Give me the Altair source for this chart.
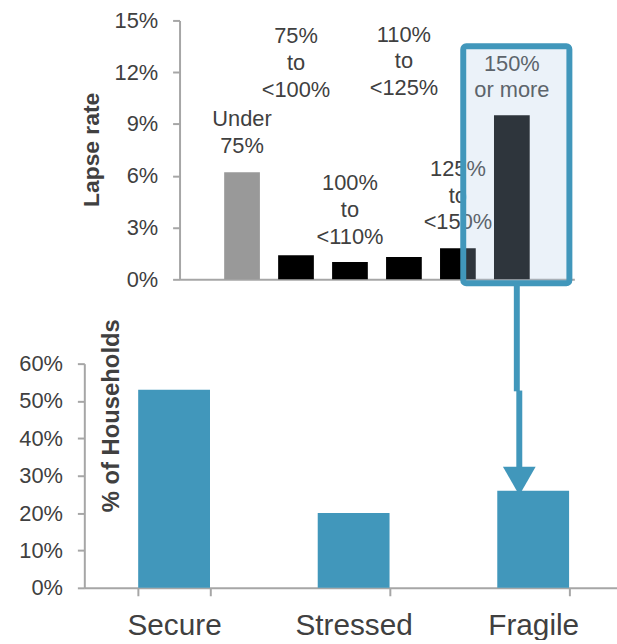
import altair as alt
import pandas as pd

# ---------------- data ----------------
lapse_categories = ["Under 75%", "75% to <100%", "100% to <110%",
                    "110% to <125%", "125% to <150%", "150% or more"]
lapse_labels = ["Under\n75%", "75%\nto\n<100%", "100%\nto\n<110%",
                "110%\nto\n<125%", "125%\nto\n<150%", "150%\nor more"]
lapse_rates = [6.2, 1.4, 1.0, 1.3, 1.8, 9.5]
lapse_colors = ["#999999", "#000000", "#000000", "#000000", "#000000", "#000000"]
lapse_ticks = [0, 3, 6, 9, 12, 15]

household_groups = ["Secure", "Stressed", "Fragile"]
household_shares = [53, 20, 26]
household_ticks = [0, 10, 20, 30, 40, 50, 60]

# annotation layout (in data units; first text line position)
label_y = [9.28, 14.08, 5.58, 14.18, 6.4, 12.5]
highlight_cat = "150% or more"
highlight_top, highlight_bottom = 13.5, -0.23
arrow_cat = "Fragile"
arrow_upper = [81.5, 52.6]
arrow_lower = [52.8, 31.5]
arrow_head_y = 28.6

TEXT = "#404040"
AXIS = "#A6A6A6"
BLUE = "#4197BB"
FONT = "Liberation Sans"

# ---------------- top chart ----------------
top_df = pd.DataFrame({"cat": lapse_categories, "v": lapse_rates})
lab_df = pd.DataFrame({"cat": lapse_categories, "v": label_y, "label": lapse_labels})
box_df = pd.DataFrame({"cat": [highlight_cat], "v": [highlight_top], "v2": [highlight_bottom]})

xtop = alt.X("cat:N", sort=lapse_categories,
             scale=alt.Scale(range=[96, 494], paddingInner=0.338, paddingOuter=0.827),
             axis=alt.Axis(labels=False, ticks=False, title=None,
                           domainColor=AXIS, domainWidth=2))
top_axis = alt.Axis(values=lapse_ticks, labelExpr="datum.value + '%'", offset=-96,
                    title="Lapse rate", titleX=-89, titleY=130, titleAngle=270,
                    titleAlign="center", titleBaseline="middle", titleFontSize=23,
                    titleFontWeight="bold", titleColor=TEXT, titleFont=FONT,
                    grid=False, tickSize=7, labelPadding=15, labelFontSize=22,
                    labelColor=TEXT, labelFont=FONT, domainColor=AXIS, tickColor=AXIS,
                    domainWidth=2, tickWidth=2)
top_scale = alt.Scale(domain=[0, 15], nice=False)

bars_top = alt.Chart(top_df).mark_bar().encode(
    x=xtop,
    y=alt.Y("v:Q", scale=top_scale, axis=top_axis),
    color=alt.Color("cat:N", scale=alt.Scale(domain=lapse_categories, range=lapse_colors),
                    legend=None),
)
labels_top = alt.Chart(lab_df).mark_text(
    fontSize=22, font=FONT, color=TEXT, lineBreak="\n", lineHeight=27,
    baseline="middle", align="center"
).encode(
    x=xtop,
    y=alt.Y("v:Q", scale=top_scale, axis=top_axis),
    text="label:N",
)
box_top = alt.Chart(box_df).mark_bar(
    width=107, xOffset=4.5, fill="#B1CCE7", fillOpacity=0.26,
    stroke=BLUE, strokeWidth=6, cornerRadius=3
).encode(
    x=xtop,
    y=alt.Y("v:Q", scale=top_scale, axis=top_axis),
    y2="v2:Q",
)
top = alt.layer(bars_top, labels_top, box_top).properties(width=494, height=261)

# ---------------- bottom chart ----------------
bot_df = pd.DataFrame({"cat": household_groups, "v": household_shares})
arrow1_df = pd.DataFrame({"cat": [arrow_cat], "v": [arrow_upper[0]], "v2": [arrow_upper[1]]})
arrow2_df = pd.DataFrame({"cat": [arrow_cat], "v": [arrow_lower[0]], "v2": [arrow_lower[1]]})
head_df = pd.DataFrame({"cat": [arrow_cat], "v": [arrow_head_y]})

xbot = alt.X("cat:N", sort=household_groups,
             scale=alt.Scale(paddingInner=0.6, paddingOuter=0.3),
             axis=alt.Axis(title=None, labelAngle=0, labelFontSize=30, labelFont=FONT,
                           labelColor=TEXT, tickBand="extent", tickSize=8,
                           tickColor=AXIS, domainColor=AXIS, labelPadding=15,
                           domainWidth=2, tickWidth=2))
bot_axis = alt.Axis(values=household_ticks, labelExpr="datum.value + '%'",
                    title="% of Households", titleX=27, titleY=52, titleAngle=270,
                    titleAlign="center", titleBaseline="middle", titleFontSize=24,
                    titleFontWeight="bold", titleColor=TEXT, titleFont=FONT,
                    grid=False, tickSize=7, labelPadding=15, labelFontSize=22,
                    labelColor=TEXT, labelFont=FONT, domainColor=AXIS, tickColor=AXIS,
                    domainWidth=2, tickWidth=2)
bot_scale = alt.Scale(domain=[0, 60], nice=False)

bars_bot = alt.Chart(bot_df).mark_bar(color=BLUE).encode(
    x=xbot, y=alt.Y("v:Q", scale=bot_scale, axis=bot_axis))
arrow1 = alt.Chart(arrow1_df).mark_rule(color=BLUE, strokeWidth=6, xOffset=-16.5).encode(
    x=xbot, y=alt.Y("v:Q", scale=bot_scale, axis=bot_axis), y2="v2:Q")
arrow2 = alt.Chart(arrow2_df).mark_rule(color=BLUE, strokeWidth=6, xOffset=-14).encode(
    x=xbot, y=alt.Y("v:Q", scale=bot_scale, axis=bot_axis), y2="v2:Q")
head = alt.Chart(head_df).mark_point(shape="triangle-down", filled=True, size=1089,
                                     color=BLUE, opacity=1, xOffset=-14).encode(
    x=xbot, y=alt.Y("v:Q", scale=bot_scale, axis=bot_axis))
bottom = alt.layer(bars_bot, arrow1, arrow2, head).properties(width=543, height=226)

chart = alt.vconcat(top, bottom, spacing=85, bounds="flush").properties(
    padding={"left": 18, "top": 7, "right": -6, "bottom": -3},
    background="white",
).configure_view(stroke=None)

chart.save("out.html", embed_options={"renderer": "svg", "actions": False})
